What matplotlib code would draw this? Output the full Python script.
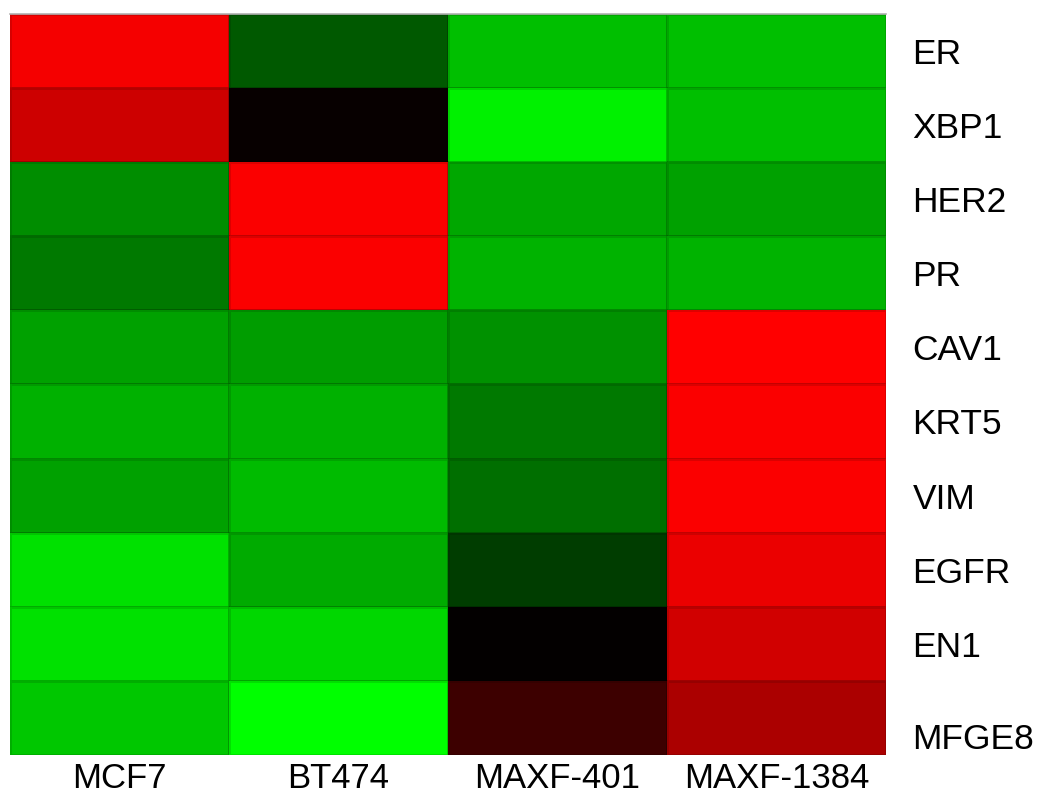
import matplotlib.pyplot as plt
import matplotlib.transforms as mtransforms
import numpy as np
from matplotlib.colors import LinearSegmentedColormap

genes = ["ER", "XBP1", "HER2", "PR", "CAV1", "KRT5", "VIM", "EGFR", "EN1", "MFGE8"]
lines = ["MCF7", "BT474", "MAXF-401", "MAXF-1384"]

# expression (red = up, green = down)
mcf7 = [0.96, 0.80, -0.55, -0.47, -0.63, -0.69, -0.63, -0.88, -0.88, -0.78]
bt474 = [-0.35, 0.03, 0.98, 0.98, -0.61, -0.69, -0.73, -0.67, -0.84, -1.00]
maxf401 = [-0.75, -0.94, -0.65, -0.70, -0.57, -0.47, -0.43, -0.24, 0.01, 0.24]
maxf1384 = [-0.75, -0.75, -0.63, -0.70, 1.00, 0.98, 0.98, 0.92, 0.82, 0.67]

data = np.array([mcf7, bt474, maxf401, maxf1384]).T

cmap = LinearSegmentedColormap.from_list("rg", [(0, 1, 0), (0, 0, 0), (1, 0, 0)])

plt.rcParams['font.family'] = ['Liberation Sans', 'DejaVu Sans']
fig = plt.figure(figsize=(10.46, 7.98), dpi=100)
ax = fig.add_axes([0.0096, 0.054, 0.8375, 0.9285])

ax.pcolormesh(data, cmap=cmap, vmin=-1, vmax=1,
              edgecolors=(0, 0, 0, 0.12), linewidth=0.8)
ax.set_xlim(0, len(lines))
ax.set_ylim(len(genes), 0)

ax.set_xticks(np.arange(len(lines)) + 0.5)
ax.set_xticklabels(lines, fontsize=25)
ax.set_yticks(np.arange(len(genes)) + 0.5)
ax.set_yticklabels(genes, fontsize=25.5)
ax.yaxis.tick_right()
ax.tick_params(axis='y', length=0, pad=19)
ax.tick_params(axis='x', length=0, pad=5)

# last row label sits a bit lower in the original
lab = ax.get_yticklabels()[-1]
lab.set_transform(lab.get_transform() + mtransforms.ScaledTranslation(0, -0.18, fig.dpi_scale_trans))

for s in ["left", "right", "bottom"]:
    ax.spines[s].set_visible(False)
ax.spines["top"].set_color("#b0b0b0")
ax.spines["top"].set_linewidth(1.2)

plt.savefig("out.png", dpi=100, facecolor="w")
